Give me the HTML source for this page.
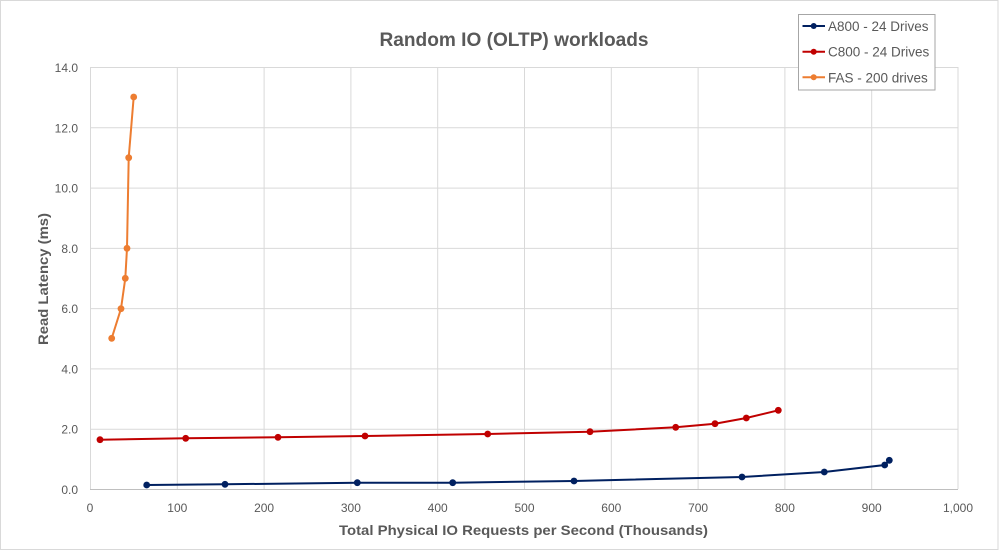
<!DOCTYPE html>
<html><head><meta charset="utf-8"><style>
html,body{margin:0;padding:0;background:#fff;}
svg{display:block;font-family:"Liberation Sans",Arial,sans-serif;}
</style></head><body>
<svg width="999" height="551" viewBox="0 0 999 551" xmlns="http://www.w3.org/2000/svg">
<rect x="0.5" y="0.5" width="997.5" height="549" fill="#fff" stroke="#d9d9d9" stroke-width="1"/>
<text x="514" y="46" text-anchor="middle" font-size="19.5" font-weight="bold" fill="#595959" textLength="269" lengthAdjust="spacingAndGlyphs">Random IO (OLTP) workloads</text>
<g stroke="#d9d9d9" stroke-width="1">
<line x1="90.5" y1="67" x2="90.5" y2="489"/>
<line x1="177.3" y1="67" x2="177.3" y2="489"/>
<line x1="264.1" y1="67" x2="264.1" y2="489"/>
<line x1="350.9" y1="67" x2="350.9" y2="489"/>
<line x1="437.7" y1="67" x2="437.7" y2="489"/>
<line x1="524.5" y1="67" x2="524.5" y2="489"/>
<line x1="611.3" y1="67" x2="611.3" y2="489"/>
<line x1="698.1" y1="67" x2="698.1" y2="489"/>
<line x1="784.9" y1="67" x2="784.9" y2="489"/>
<line x1="871.7" y1="67" x2="871.7" y2="489"/>
<line x1="958" y1="67" x2="958" y2="489"/>
<line x1="90" y1="67.5" x2="958" y2="67.5"/>
<line x1="90" y1="127.8" x2="958" y2="127.8"/>
<line x1="90" y1="188.1" x2="958" y2="188.1"/>
<line x1="90" y1="248.4" x2="958" y2="248.4"/>
<line x1="90" y1="308.6" x2="958" y2="308.6"/>
<line x1="90" y1="368.9" x2="958" y2="368.9"/>
<line x1="90" y1="429.2" x2="958" y2="429.2"/>
</g>
<line x1="90" y1="489.5" x2="958" y2="489.5" stroke="#bfbfbf" stroke-width="1"/>
<g font-size="12" fill="#595959" text-anchor="end">
<text x="78" y="72">14.0</text>
<text x="78" y="132.3">12.0</text>
<text x="78" y="192.6">10.0</text>
<text x="78" y="252.9">8.0</text>
<text x="78" y="313.1">6.0</text>
<text x="78" y="373.4">4.0</text>
<text x="78" y="433.7">2.0</text>
<text x="78" y="494">0.0</text>
</g>
<g font-size="12" fill="#595959" text-anchor="middle">
<text x="90" y="512">0</text>
<text x="177.3" y="512">100</text>
<text x="264.1" y="512">200</text>
<text x="350.9" y="512">300</text>
<text x="437.7" y="512">400</text>
<text x="524.5" y="512">500</text>
<text x="611.3" y="512">600</text>
<text x="698.1" y="512">700</text>
<text x="784.9" y="512">800</text>
<text x="871.7" y="512">900</text>
<text x="958" y="512">1,000</text>
</g>
<text x="523.5" y="535" text-anchor="middle" font-size="14" font-weight="bold" fill="#595959" textLength="369" lengthAdjust="spacingAndGlyphs">Total Physical IO Requests per Second (Thousands)</text>
<text transform="translate(48,279) rotate(-90)" text-anchor="middle" font-size="14" font-weight="bold" fill="#595959" textLength="132" lengthAdjust="spacingAndGlyphs">Read Latency (ms)</text>

<polyline fill="none" stroke="#002060" stroke-width="2" points="146.7,485 225,484.3 357.3,482.7 452.7,482.7 574,481 742,477 824.3,472 884.7,465 889.3,460.3"/>
<g fill="#002060">
<circle cx="146.7" cy="485" r="3.4"/><circle cx="225" cy="484.3" r="3.4"/><circle cx="357.3" cy="482.7" r="3.4"/><circle cx="452.7" cy="482.7" r="3.4"/><circle cx="574" cy="481" r="3.4"/><circle cx="742" cy="477" r="3.4"/><circle cx="824.3" cy="472" r="3.4"/><circle cx="884.7" cy="465" r="3.4"/><circle cx="889.3" cy="460.3" r="3.4"/>
</g>
<polyline fill="none" stroke="#c00000" stroke-width="2" points="100,439.7 185.7,438.3 278,437.3 365,436 487.7,434 590,431.7 675.7,427.3 715,423.7 746.3,418 778.3,410.3"/>
<g fill="#c00000">
<circle cx="100" cy="439.7" r="3.4"/><circle cx="185.7" cy="438.3" r="3.4"/><circle cx="278" cy="437.3" r="3.4"/><circle cx="365" cy="436" r="3.4"/><circle cx="487.7" cy="434" r="3.4"/><circle cx="590" cy="431.7" r="3.4"/><circle cx="675.7" cy="427.3" r="3.4"/><circle cx="715" cy="423.7" r="3.4"/><circle cx="746.3" cy="418" r="3.4"/><circle cx="778.3" cy="410.3" r="3.4"/>
</g>
<polyline fill="none" stroke="#ed7d31" stroke-width="2" points="111.7,338.3 121,308.7 125.3,278.3 127,248.3 128.7,157.7 133.7,97"/>
<g fill="#ed7d31">
<circle cx="111.7" cy="338.3" r="3.4"/><circle cx="121" cy="308.7" r="3.4"/><circle cx="125.3" cy="278.3" r="3.4"/><circle cx="127" cy="248.3" r="3.4"/><circle cx="128.7" cy="157.7" r="3.4"/><circle cx="133.7" cy="97" r="3.4"/>
</g>

<rect x="798.5" y="14.5" width="136.5" height="75.5" fill="#fff" stroke="#a6a6a6" stroke-width="1"/>
<g stroke-width="2">
<line x1="802.5" y1="26" x2="825" y2="26" stroke="#002060"/>
<line x1="802.5" y1="51.7" x2="825" y2="51.7" stroke="#c00000"/>
<line x1="802.5" y1="77.3" x2="825" y2="77.3" stroke="#ed7d31"/>
</g>
<circle cx="813.7" cy="26" r="3" fill="#002060"/>
<circle cx="813.7" cy="51.7" r="3" fill="#c00000"/>
<circle cx="813.7" cy="77.3" r="3" fill="#ed7d31"/>
<g font-size="13.5" fill="#595959">
<text x="828" y="31">A800 - 24 Drives</text>
<text x="828" y="56.7">C800 - 24 Drives</text>
<text x="828" y="82.3">FAS - 200 drives</text>
</g>
</svg>
</body></html>
